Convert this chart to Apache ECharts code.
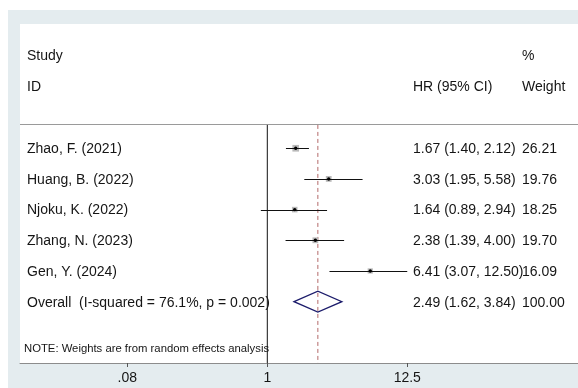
<!DOCTYPE html>
<html>
<head>
<meta charset="utf-8">
<style>
  html, body { margin: 0; padding: 0; background: #fff; }
  #chart { width: 578px; height: 388px; }
</style>
<script src="https://cdn.jsdelivr.net/npm/echarts@6/dist/echarts.min.js"></script>
</head>
<body>
<div id="chart"></div>
<script>
// Study-level hazard ratios with 95% confidence intervals
const studies = ['Zhao, F. (2021)', 'Huang, B. (2022)', 'Njoku, K. (2022)', 'Zhang, N. (2023)', 'Gen, Y. (2024)'];
const hr      = [1.67, 3.03, 1.64, 2.38, 6.41];
const lower   = [1.40, 1.95, 0.89, 1.39, 3.07];
const upper   = [2.12, 5.58, 2.94, 4.00, 12.50];
const weights = [26.21, 19.76, 18.25, 19.70, 16.09];

// Pooled (random effects) estimate
const overallLabel = 'Overall  (I-squared = 76.1%, p = 0.002)';
const overallHR = 2.49;
const overallLower = 1.62;
const overallUpper = 3.84;
const overallWeight = 100.00;

// Axis ticks (log scale)
const xTicks = [0.08, 1, 12.5];
const xMin = 0.01153;
const xMax = 272.3;

const FONT = '"Liberation Sans", Arial, sans-serif';
const TXT = '#151515';
const COL_STUDY = 27, COL_HR = 413, COL_W = 522;
const TEXT_DY = 1;

const fmt2 = v => v.toFixed(2);

// Rows: index 0..4 studies, 5 overall
const rows = studies.map((s, i) => ({
  name: s, hr: hr[i], lo: lower[i], hi: upper[i], w: weights[i], row: i, pooled: false
}));
rows.push({ name: overallLabel, hr: overallHR, lo: overallLower, hi: overallUpper, w: overallWeight, row: studies.length, pooled: true });

function textEl(x, y, str, size) {
  return {
    type: 'text',
    style: { x: x, y: y + TEXT_DY, text: str, fill: TXT, font: (size || 14) + 'px ' + FONT, textVerticalAlign: 'middle', textAlign: 'left' }
  };
}

function renderRow(params, api) {
  const r = rows[params.dataIndex];
  const c = api.coord([r.hr, r.row]);
  const cl = api.coord([r.lo, r.row]);
  const ch = api.coord([r.hi, r.row]);
  const y = c[1];
  const children = [];
  if (!r.pooled) {
    const side = 1.3 * Math.sqrt(r.w);
    children.push({
      type: 'rect',
      shape: { x: c[0] - side / 2, y: y - side / 2, width: side, height: side },
      style: { fill: '#b9b9b9', stroke: null }
    });
    children.push({
      type: 'line',
      shape: { x1: cl[0], y1: Math.round(y) + 0.5, x2: ch[0], y2: Math.round(y) + 0.5 },
      style: { stroke: '#111', lineWidth: 1 }
    });
    children.push({
      type: 'circle',
      shape: { cx: c[0], cy: y, r: 1.7 },
      style: { fill: '#000' }
    });
  } else {
    const h = 10.5;
    children.push({
      type: 'polygon',
      shape: { points: [[cl[0], y], [c[0], y - h], [ch[0], y], [c[0], y + h]] },
      style: { fill: 'rgba(255,255,255,0)', stroke: '#1c1c6b', lineWidth: 1.3 }
    });
  }
  children.push(textEl(COL_STUDY, y, r.name));
  children.push(textEl(COL_HR, y, fmt2(r.hr) + ' (' + fmt2(r.lo) + ', ' + fmt2(r.hi) + ')'));
  children.push(textEl(COL_W, y, fmt2(r.w)));
  return { type: 'group', children: children };
}

const chart = echarts.init(document.getElementById('chart'), null, { renderer: 'canvas' });

const topRule = -0.76;   // y position (row units) where the reference lines start
const bottomRow = 7;

function header(x, y, str, size) {
  return { type: 'text', z: 10, style: { x: x, y: y + TEXT_DY, text: str, fill: TXT, font: (size || 14) + 'px ' + FONT, textVerticalAlign: 'middle' } };
}

chart.setOption({
  backgroundColor: '#ffffff',
  animation: false,
  graphic: [
    { type: 'rect', z: -100, silent: true, shape: { x: 8, y: 10, width: 570, height: 378 }, style: { fill: '#e4ecef' } },
    { type: 'rect', z: -99, silent: true, shape: { x: 20, y: 24, width: 558, height: 339 }, style: { fill: '#ffffff' } },
    { type: 'line', z: 1, silent: true, shape: { x1: 20, y1: 124.5, x2: 578, y2: 124.5 }, style: { stroke: '#9a9a9a', lineWidth: 1 } },
    header(27, 55, 'Study'),
    header(27, 86, 'ID'),
    header(COL_W, 55, '%'),
    header(COL_HR, 86, 'HR (95% CI)'),
    header(COL_W, 86, 'Weight'),
    header(24, 348, 'NOTE: Weights are from random effects analysis', 11.3)
  ],
  grid: { left: 20, right: 0, top: 24, bottom: 25, containLabel: false, show: false },
  xAxis: {
    type: 'log',
    logBase: 10,
    min: xMin,
    max: xMax,
    splitLine: { show: false },
    axisLine: { show: true, onZero: false, lineStyle: { color: '#8c8c8c', width: 1 } },
    axisTick: { show: true, customValues: xTicks, length: 4, lineStyle: { color: '#555' } },
    axisLabel: {
      customValues: xTicks,
      margin: 8,
      fontSize: 14,
      fontFamily: FONT,
      color: TXT,
      formatter: v => {
        const n = +(+v).toPrecision(6);
        return n < 1 ? String(n).replace(/^0/, '') : String(n);
      }
    }
  },
  yAxis: {
    type: 'value',
    inverse: true,
    min: -4.05,
    max: bottomRow,
    show: false
  },
  series: [
    {
      // line of no effect
      type: 'line',
      data: [[1, topRule], [1, bottomRow]],
      symbol: 'none',
      lineStyle: { color: '#111', width: 1 },
      z: 2
    },
    {
      // pooled estimate reference
      type: 'line',
      data: [[overallHR, topRule], [overallHR, bottomRow]],
      symbol: 'none',
      lineStyle: { color: '#b36a6a', width: 1, type: [4, 3] },
      z: 2
    },
    {
      type: 'custom',
      renderItem: renderRow,
      data: rows.map(r => [r.hr, r.row]),
      z: 5
    }
  ]
});
</script>
</body>
</html>
